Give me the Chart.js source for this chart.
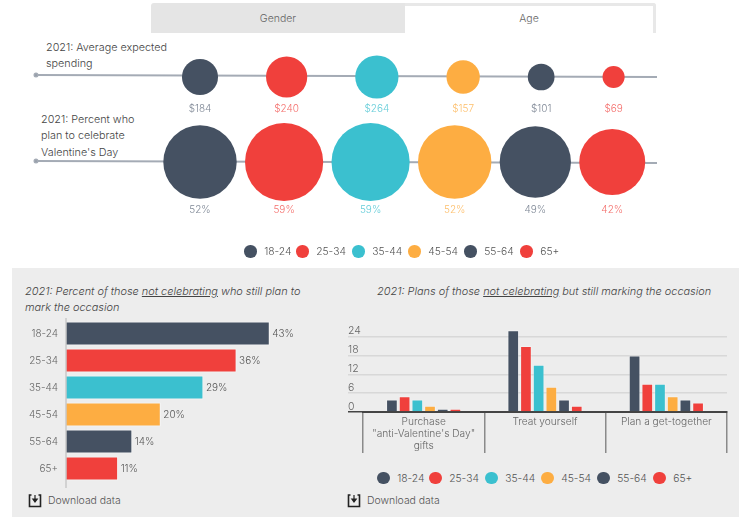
<!DOCTYPE html>
<html>
<head>
<meta charset="utf-8">
<script src="https://cdn.jsdelivr.net/npm/chart.js@4"></script>
<style>
  body { margin: 0; background: #fff; font-family: Inter, sans-serif; font-weight: 300; color: #555; }
  #page { position: relative; width: 750px; height: 519px; overflow: hidden; }
  #page > * { position: absolute; }
  .tab { top: 3px; height: 30px; line-height: 31px; text-align: center; font-size: 10.5px; color: #666; box-sizing: border-box; }
  #tab1 { left: 151px; width: 254px; background: #e5e5e5; border-radius: 3px 0 0 0; }
  #tab2 { left: 405px; width: 251px; background: #fff; border: 3px solid #e8e8e8; border-width: 3px 3px 0 0; line-height: 25px; border-radius: 0 3px 0 0; }
  #panel { left: 12px; top: 268px; width: 727px; height: 249px; background: #ededed; }
  .note { font-size: 10.8px; line-height: 16.4px; color: #444; white-space: nowrap; }
  .title { font-size: 10.93px; line-height: 16px; font-style: italic; color: #444; white-space: nowrap; }
  .legend { display: flex; font-size: 10.3px; color: #555; white-space: nowrap; }
  .legend span { display: flex; align-items: center; }
  .legend i { width: 12.5px; height: 12.5px; border-radius: 50%; margin-right: 7.7px; }
  .download { font-size: 10.45px; color: #555; display: flex; align-items: center; white-space: nowrap; }
  .download svg { margin-right: 6px; }
</style>
</head>
<body>
<div id="page">
  <div class="tab" id="tab1">Gender</div>
  <div class="tab" id="tab2">Age</div>
  <div id="panel"></div>

  <div class="note" style="left:46px;top:40px">2021: Average expected<br>spending</div>
  <div class="note" style="left:41px;top:112px">2021: Percent who<br>plan to celebrate<br>Valentine's Day</div>
  <canvas id="bubbles" width="750" height="260" style="left:0;top:0"></canvas>
  <div class="legend" id="legendTop" style="left:244px;top:245px"></div>

  <div class="title" style="left:25px;top:282.5px">2021: Percent of those <u>not celebrating</u> who still plan to<br>mark the occasion</div>
  <canvas id="bars" width="290" height="170" style="left:12px;top:317.5px"></canvas>
  <div class="download" style="left:28px;top:493px"></div>

  <div class="title" style="left:377px;top:282.5px">2021: Plans of those <u>not celebrating</u> but still marking the occasion</div>
  <canvas id="groups" width="385" height="130" style="left:348px;top:323.7px"></canvas>
  <div class="legend" id="legendBottom" style="left:377px;top:471.5px"></div>
  <div class="download" style="left:347px;top:493px"></div>
</div>

<script>
var ages = ["18-24", "25-34", "35-44", "45-54", "55-64", "65+"];
var spending = [184, 240, 264, 157, 101, 69];
var celebrating = [52, 59, 59, 52, 49, 42];
var stillMarking = [43, 36, 29, 20, 14, 11];

var plans = [["Purchase", "\"anti-Valentine's Day\"", "gifts"], "Treat yourself", "Plan a get-together"];
var plans1824 = [4, 26, 18];
var plans2534 = [5, 21, 9];
var plans3544 = [4, 15, 9];
var plans4554 = [2, 8, 5];
var plans5564 = [1, 4, 4];
var plans65 = [1, 2, 3];
var planTicks = [0, 6, 12, 18, 24];

var ageColors = ["#455162", "#f0403c", "#3bc0cf", "#fdad42", "#455162", "#f0403c"];
var labelColors = ["#7f8896", "#f4706d", "#66cdd9", "#fdbf6c", "#7f8896", "#f4706d"];
var font = "Inter, sans-serif";

Chart.defaults.font.family = font;
Chart.defaults.font.weight = 300;
Chart.defaults.animation = false;
Chart.defaults.responsive = false;
Chart.defaults.layout.autoPadding = false;
Chart.defaults.plugins.legend.display = false;
Chart.defaults.plugins.tooltip.enabled = false;

// bubbles are area scaled and packed along the line with a constant gap
function packRow(values, k, startX, gap, y) {
  var pts = [];
  var x = startX;
  for (var i = 0; i < values.length; i++) {
    var r = k * Math.sqrt(values[i]);
    if (i > 0) x += pts[i - 1].r + gap + r;
    pts.push({ x: x, y: y, r: r });
  }
  return pts;
}

function rail(y) {
  return {
    type: "line",
    data: [{ x: 36, y: y - 1 }, { x: 657, y: y + 1 }],
    borderColor: "#a4abb5",
    borderWidth: 2,
    pointRadius: [1.5, 0],
    pointBackgroundColor: "#6b7582",
    order: 2
  };
}

// value text under each bubble
var bubbleLabels = {
  id: "bubbleLabels",
  afterDatasetsDraw: function(chart) {
    var c = chart.ctx;
    c.save();
    c.font = "300 10px " + font;
    c.textAlign = "center";
    c.textBaseline = "middle";
    [[0, spending, "$", "", 109], [1, celebrating, "", "%", 210]].forEach(function(row) {
      chart.getDatasetMeta(row[0]).data.forEach(function(el, i) {
        c.fillStyle = labelColors[i];
        c.fillText(row[2] + row[1][i] + row[3], el.x, chart.scales.y.getPixelForValue(row[4]));
      });
    });
    c.restore();
  }
};

new Chart(document.getElementById("bubbles"), {
  type: "bubble",
  data: {
    datasets: [
      { data: packRow(spending, 1.33, 200, 48, 77), backgroundColor: ageColors, borderWidth: 0, order: 1 },
      { data: packRow(celebrating, 5.09, 200, 8.3, 162), backgroundColor: ageColors, borderWidth: 0, order: 1 },
      rail(76),
      rail(162)
    ]
  },
  options: {
    layout: { padding: 0 },
    scales: {
      x: { type: "linear", display: false, min: 0, max: 750 },
      y: { type: "linear", display: false, min: 0, max: 260, reverse: true }
    }
  },
  plugins: [bubbleLabels]
});

// percent text at bar ends + the axis line, which runs past the bars
var barExtras = {
  id: "barExtras",
  afterDatasetsDraw: function(chart) {
    var c = chart.ctx;
    var a = chart.chartArea;
    c.save();
    c.strokeStyle = "#c9c9c9";
    c.lineWidth = 1.5;
    c.beginPath();
    c.moveTo(a.left, a.top - 2);
    c.lineTo(a.left, a.bottom + 6);
    c.stroke();
    c.font = "300 10px " + font;
    c.fillStyle = "#555";
    c.textBaseline = "middle";
    chart.getDatasetMeta(0).data.forEach(function(el, i) {
      c.fillText(stillMarking[i] + "%", el.x + 2.5, el.y);
    });
    c.restore();
  }
};

new Chart(document.getElementById("bars"), {
  type: "bar",
  data: {
    labels: ages,
    datasets: [{
      data: stillMarking,
      backgroundColor: ageColors,
      borderColor: "rgba(255,255,255,0.55)",
      borderWidth: 1,
      categoryPercentage: 1,
      barPercentage: 0.89
    }]
  },
  options: {
    indexAxis: "y",
    layout: { padding: { top: 2, bottom: 6 } },
    scales: {
      x: { display: false, min: 0, max: 49.8 },
      y: {
        grid: { display: false },
        border: { display: false },
        ticks: { padding: 0, color: "#666", font: { size: 10 } },
        afterFit: function(scale) {
          scale.width = 54;
          scale.paddingTop = 0;
          scale.paddingBottom = 0;
        }
      }
    }
  },
  plugins: [barExtras]
});

var planSeries = [plans1824, plans2534, plans3544, plans4554, plans5564, plans65];

new Chart(document.getElementById("groups"), {
  type: "bar",
  data: {
    labels: plans,
    datasets: planSeries.map(function(values, i) {
      return {
        label: ages[i],
        data: values,
        backgroundColor: ageColors[i],
        borderColor: "rgba(255,255,255,0.3)",
        borderWidth: 1,
        categoryPercentage: 0.628,
        barPercentage: 0.92
      };
    })
  },
  options: {
    layout: { padding: { right: 6 } },
    scales: {
      x: {
        border: { color: "#444", width: 2 },
        grid: { drawOnChartArea: false, tickLength: 41, color: "#8a8a8a", tickColor: "#8a8a8a", lineWidth: 1.5 },
        ticks: { padding: -37, color: "#666", font: { size: 10.2, lineHeight: 1.18 }, maxRotation: 0, minRotation: 0, autoSkip: false },
        afterFit: function(scale) { scale.height = 42; }
      },
      y: {
        min: 0,
        max: 28,
        border: { display: false },
        grid: {
          tickLength: 15,
          lineWidth: 1.5,
          color: function(ctx) { return ctx.tick && ctx.tick.value === 0 ? "#444" : "#d8d8d8"; },
          tickColor: function(ctx) { return ctx.tick && ctx.tick.value === 0 ? "#444" : "#d8d8d8"; }
        },
        ticks: {
          stepSize: 6,
          includeBounds: false,
          align: "end",
          crossAlign: "far",
          color: "#666",
          font: { size: 10.5 },
          callback: function(v) { return planTicks.indexOf(v) >= 0 ? v : null; }
        },
        afterFit: function(scale) {
          scale.width = 15;
          scale.paddingTop = 0;
          scale.paddingBottom = 0;
        }
      }
    }
  }
});

// legends, first item is a bit narrower than the others
function buildLegend(id) {
  var box = document.getElementById(id);
  ages.forEach(function(age, i) {
    var s = document.createElement("span");
    s.style.width = (i == 0 ? 52 : 56) + "px";
    s.innerHTML = '<i style="background:' + ageColors[i] + '"></i>' + age;
    box.appendChild(s);
  });
}
buildLegend("legendTop");
buildLegend("legendBottom");

// download icon + text
var downloads = document.querySelectorAll(".download");
for (var d = 0; d < downloads.length; d++) {
  downloads[d].innerHTML = '<svg width="14" height="15" viewBox="0 0 14 15"><path d="M3.5 2H1.5V13.5H12.5V2H10.5" fill="none" stroke="#222" stroke-width="1.6"/><path d="M7 2V8M4.8 6L7 9L9.2 6Z" fill="#222" stroke="#222" stroke-width="1.2"/></svg>Download data';
}
</script>
</body>
</html>
